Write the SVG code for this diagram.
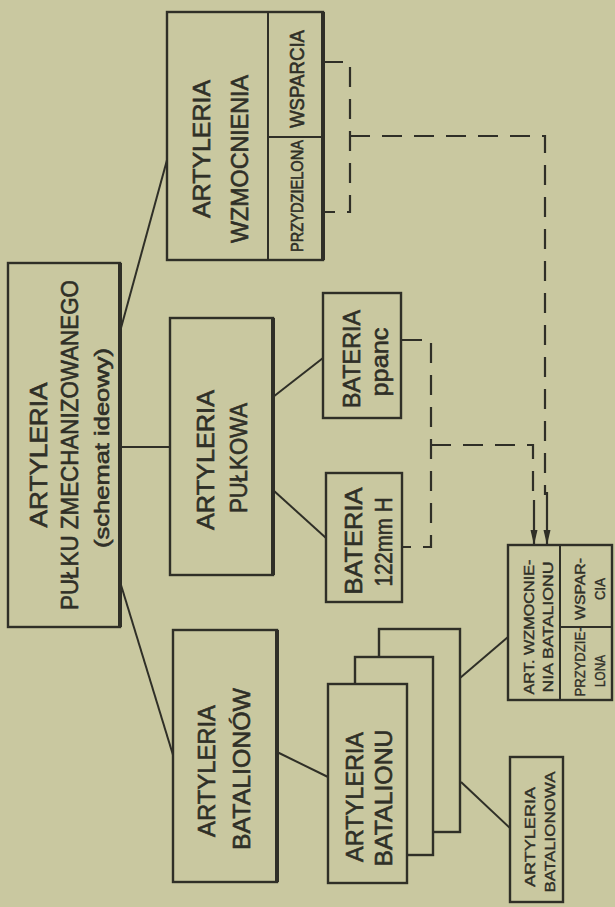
<svg xmlns="http://www.w3.org/2000/svg" width="615" height="907" viewBox="0 0 615 907">
<defs>
<style>
.bg{fill:#c9c8a0}
.box{fill:#c9c8a0;stroke:#2f2f27;stroke-width:2.4}
.edge{stroke:#2f2f27;stroke-width:4;fill:none}
.ln{stroke:#2f2f27;stroke-width:2;fill:none}
.dash{stroke:#2f2f27;stroke-width:2.2;fill:none;stroke-dasharray:20 12}
.arr{stroke:#2f2f27;stroke-width:2.2;fill:none;marker-end:url(#ah)}
text{font-family:"Liberation Sans","DejaVu Sans",sans-serif;fill:#2f2f27;stroke:#2f2f27;stroke-width:0.6;text-anchor:middle}
.t24{font-size:24px}
.t20{font-size:20px}
.t16{font-size:16px}
.t15{font-size:15px;stroke-width:0.4}
</style>
<marker id="ah" markerUnits="userSpaceOnUse" markerWidth="16" markerHeight="8" refX="15" refY="3.5" orient="auto">
<path d="M0,0 L15,3.5 L0,7 z" fill="#2f2f27"/>
</marker>
</defs>
<rect class="bg" x="0" y="0" width="615" height="907"/>

<g id="connectors">
<path class="ln" d="M121,328 L167,160"/>
<path class="ln" d="M121,447 L170,447"/>
<path class="ln" d="M121,585 L173,755"/>
<path class="ln" d="M273,397 L323,358"/>
<path class="ln" d="M273,490 L326,538"/>
<path class="ln" d="M277,752 L328,777"/>
<path class="ln" d="M460,678 L508,637"/>
<path class="ln" d="M461,782 L510,828"/>
<path class="dash" d="M323,62 H350 V212 H323"/>
<path class="dash" d="M350,136 H545 V495"/>
<path class="arr" d="M547,492 V545"/>
<path class="dash" d="M402,340 H431 V547 H403"/>
<path class="dash" d="M431,445 H533 V495"/>
<path class="arr" d="M534,500 V545"/>
</g>

<g id="main">
<rect class="box" x="8" y="263" width="112" height="364"/>
<path class="edge" d="M120,263 V627"/>
<text class="t24" transform="translate(47,455) rotate(-90)" textLength="145" lengthAdjust="spacingAndGlyphs">ARTYLERIA</text>
<text class="t24" transform="translate(78,445) rotate(-90)" textLength="330" lengthAdjust="spacingAndGlyphs">PUŁKU ZMECHANIZOWANEGO</text>
<text class="t20" transform="translate(109,448) rotate(-90)" textLength="200" lengthAdjust="spacingAndGlyphs">(schemat ideowy)</text>
</g>

<g id="wzmocnienia">
<rect class="box" x="167" y="12" width="156" height="248"/>
<path class="edge" d="M323,12 V260"/>
<path class="ln" d="M268,12 V260 M268,137 H323"/>
<text class="t24" transform="translate(210,149) rotate(-90)" textLength="138" lengthAdjust="spacingAndGlyphs">ARTYLERIA</text>
<text class="t24" transform="translate(248,159) rotate(-90)" textLength="168" lengthAdjust="spacingAndGlyphs">WZMOCNIENIA</text>
<text class="t20" transform="translate(304,79) rotate(-90)" textLength="98" lengthAdjust="spacingAndGlyphs">WSPARCIA</text>
<text class="t16" transform="translate(303,196) rotate(-90)" textLength="112" lengthAdjust="spacingAndGlyphs">PRZYDZIELONA</text>
</g>

<g id="pulkowa">
<rect class="box" x="170" y="318" width="103" height="257"/>
<path class="edge" d="M273,318 V575"/>
<text class="t24" transform="translate(214,460) rotate(-90)" textLength="140" lengthAdjust="spacingAndGlyphs">ARTYLERIA</text>
<text class="t24" transform="translate(247,458) rotate(-90)" textLength="110" lengthAdjust="spacingAndGlyphs">PUŁKOWA</text>
</g>

<g id="ppanc">
<rect class="box" x="323" y="293" width="78" height="125"/>
<text class="t24" transform="translate(360,359) rotate(-90)" textLength="98" lengthAdjust="spacingAndGlyphs">BATERIA</text>
<text class="t24" transform="translate(388,362) rotate(-90)" textLength="69" lengthAdjust="spacingAndGlyphs">ppanc</text>
</g>

<g id="bateria122">
<rect class="box" x="326" y="473" width="76" height="129"/>
<text class="t24" transform="translate(362,541) rotate(-90)" textLength="107" lengthAdjust="spacingAndGlyphs">BATERIA</text>
<text class="t24" transform="translate(392,542) rotate(-90)" textLength="89" lengthAdjust="spacingAndGlyphs">122mm H</text>
</g>

<g id="batalionow">
<rect class="box" x="173" y="630" width="104" height="252"/>
<path class="edge" d="M277,630 V882"/>
<text class="t24" transform="translate(215,771) rotate(-90)" textLength="132" lengthAdjust="spacingAndGlyphs">ARTYLERIA</text>
<text class="t24" transform="translate(250,769) rotate(-90)" textLength="162" lengthAdjust="spacingAndGlyphs">BATALIONÓW</text>
</g>

<g id="batalionu">
<rect class="box" x="379" y="629" width="81" height="203"/>
<rect class="box" x="355" y="657" width="78" height="198"/>
<rect class="box" x="328" y="684" width="79" height="199"/>
<text class="t24" transform="translate(363,797) rotate(-90)" textLength="130" lengthAdjust="spacingAndGlyphs">ARTYLERIA</text>
<text class="t24" transform="translate(392,798) rotate(-90)" textLength="137" lengthAdjust="spacingAndGlyphs">BATALIONU</text>
</g>

<g id="wzm-batalionu">
<rect class="box" x="508" y="545" width="104" height="155"/>
<path class="ln" d="M560,545 V700 M560,627 H612"/>
<text class="t15" transform="translate(534,627) rotate(-90)" textLength="135" lengthAdjust="spacingAndGlyphs">ART. WZMOCNIE-</text>
<text class="t15" transform="translate(553,627) rotate(-90)" textLength="131" lengthAdjust="spacingAndGlyphs">NIA BATALIONU</text>
<text class="t15" transform="translate(585,589) rotate(-90)" textLength="62" lengthAdjust="spacingAndGlyphs">WSPAR-</text>
<text class="t15" transform="translate(605,589) rotate(-90)" textLength="22" lengthAdjust="spacingAndGlyphs">CIA</text>
<text class="t15" transform="translate(585,662) rotate(-90)" textLength="69" lengthAdjust="spacingAndGlyphs">PRZYDZIE-</text>
<text class="t15" transform="translate(605,671) rotate(-90)" textLength="32" lengthAdjust="spacingAndGlyphs">LONA</text>
</g>

<g id="batalionowa">
<rect class="box" x="510" y="757" width="53" height="145"/>
<text class="t15" transform="translate(535,837) rotate(-90)" textLength="100" lengthAdjust="spacingAndGlyphs">ARTYLERIA</text>
<text class="t15" transform="translate(555,832) rotate(-90)" textLength="121" lengthAdjust="spacingAndGlyphs">BATALIONOWA</text>
</g>
</svg>
